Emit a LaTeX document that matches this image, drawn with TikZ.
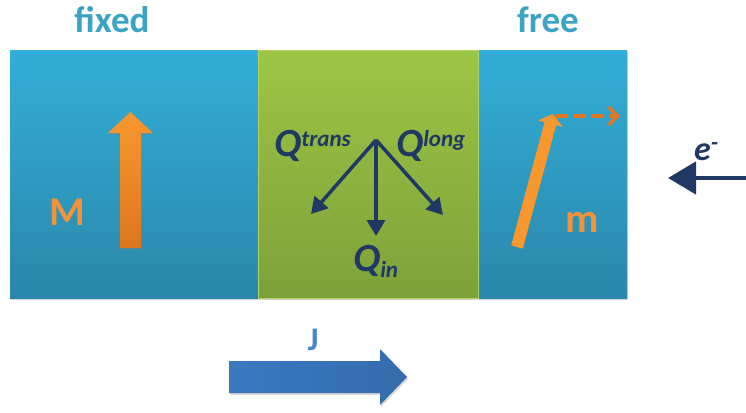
\documentclass[tikz,border=0pt]{standalone}
\usepackage{fontspec}
\setmainfont{Carlito}
\usetikzlibrary{arrows.meta,shadows}
\definecolor{bluetop}{HTML}{33AED8}
\definecolor{bluebot}{HTML}{2A87A9}
\definecolor{greentop}{HTML}{9DC544}
\definecolor{greenbot}{HTML}{7DA13A}
\definecolor{titleblue}{HTML}{3BA3C3}
\definecolor{orangetop}{HTML}{F8982F}
\definecolor{orangebot}{HTML}{DD761F}
\definecolor{labelorange}{HTML}{F2923A}
\definecolor{navy}{HTML}{1F3864}
\definecolor{jblue}{HTML}{3A78C0}
\definecolor{jlabel}{HTML}{4A86CA}
\tikzset{
  layer/.style={draw=none, minimum height=248pt, inner sep=0pt, drop shadow={shadow xshift=1pt, shadow yshift=-2pt, opacity=0.35}},
  bluelayer/.style={layer, top color=bluetop, bottom color=bluebot},
  greenlayer/.style={layer, top color=greentop, bottom color=greenbot, draw=greentop!80!white, line width=0.8pt},
  title/.style={font=\fontsize{37}{39}\selectfont\bfseries, text=titleblue},
  maglabel/.style={font=\fontsize{41}{43}\selectfont\bfseries, text=labelorange},
  qlabel/.style={font=\fontsize{40}{42}\selectfont\bfseries\itshape, text=navy, inner sep=0pt},
  qarrow/.style={navy, line width=3.5pt, -{Triangle[length=16pt,width=18pt]}},
}
\begin{document}
\begin{tikzpicture}[x=1pt,y=-1pt]
\useasboundingbox (0,0) rectangle (746,412);
\fill[white] (0,0) rectangle (746,412);
% layers
\node[bluelayer, minimum width=248pt, anchor=north west] (fixedL) at (10,50) {};
\node[bluelayer, minimum width=149pt, anchor=north west] (freeL) at (478,50) {};
\node[greenlayer, minimum width=220pt, anchor=north west] (barrier) at (258,50) {};
% titles
\node[title] (tfixed) at (112,20) {fixed};
\node[title] (tfree) at (548,20) {free};
% fixed magnetization arrow
\shade[top color=orangetop, bottom color=orangebot, drop shadow={shadow xshift=1pt, shadow yshift=-2pt, opacity=0.3}]
  (120,248) -- (120,133) -- (108,133) -- (130.5,112) -- (153,133) -- (141,133) -- (141,248) -- cycle;
\node[maglabel] (M) at (67,212) {M};
% free magnetization arrow
\coordinate (mstart) at (517,247);
\coordinate (mtip) at (553,114);
\draw[orangetop, line width=12pt, -{Triangle[length=10pt,width=25pt]}] (mstart) -- (mtip);
\coordinate (dstart) at (556,116);
\coordinate (dend) at (620,116);
\draw[orangebot!90!orangetop, line width=4pt, dash pattern=on 12pt off 6pt, -{Straight Barb[length=9pt,width=18pt,line width=3.5pt]}] (dstart) -- (dend);
\node[maglabel] (m) at (582,222) {m};
% spin-transfer torque arrows
\coordinate (qo) at (376,140);
\coordinate (qtr) at (311,214);
\coordinate (qin) at (376,236);
\coordinate (qlg) at (443,215);
\draw[qarrow] (qo) -- (qtr);
\draw[qarrow] (qo) -- (qin);
\draw[qarrow] (qo) -- (qlg);
\node[qlabel, anchor=base west] (Qtrans) at (274,156) {Q\textsuperscript{\fontsize{23}{24}\selectfont trans}};
\node[qlabel, anchor=base west] (Qlong) at (396,156) {Q\textsuperscript{\fontsize{23}{24}\selectfont long}};
\node[qlabel, anchor=base west] (Qin) at (353,271) {Q\raisebox{-6pt}{\fontsize{23}{24}\selectfont in}};
% electron flow
\coordinate (estart) at (746,178);
\coordinate (eend) at (668,178);
\draw[navy, line width=4.5pt, -{Triangle[length=28pt,width=32pt]}] (estart) -- (eend);
\node[qlabel, font=\fontsize{34}{36}\selectfont\bfseries\itshape, anchor=base west] (elec) at (694,160) {e\textsuperscript{-}};
% current arrow
\shade[left color=jblue, right color=jblue!90!black, drop shadow={shadow xshift=1pt, shadow yshift=-2pt, opacity=0.3}]
  (229,361) -- (380,361) -- (380,349) -- (407,377) -- (380,405) -- (380,393) -- (229,393) -- cycle;
\node[font=\fontsize{33}{35}\selectfont\bfseries, text=jlabel] (J) at (313,340) {J};
\end{tikzpicture}
\end{document}
